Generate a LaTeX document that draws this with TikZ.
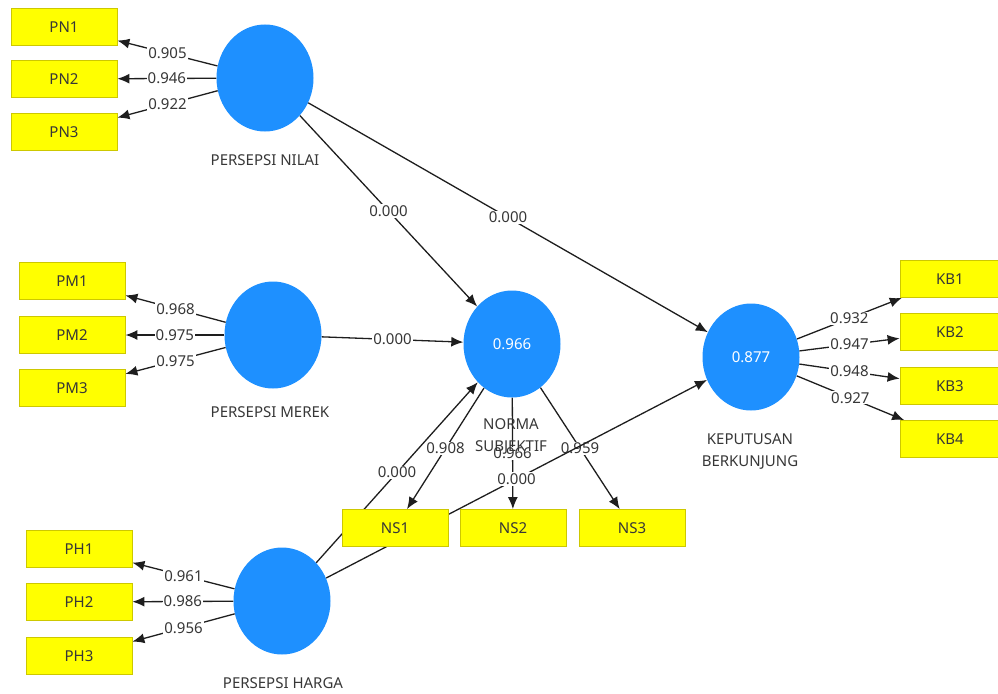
\documentclass[tikz,border=0pt]{standalone}
\usepackage{fontspec}
\setmainfont{Noto Sans}
\usetikzlibrary{shapes.geometric,arrows.meta}
\pgfdeclarelayer{background}
\pgfsetlayers{background,main}
\definecolor{lvblue}{RGB}{30,144,255}
\definecolor{boxyellow}{RGB}{255,255,0}
\definecolor{boxedge}{RGB}{205,200,0}
\definecolor{txtgray}{RGB}{55,55,55}
\definecolor{linegray}{RGB}{30,30,30}
\tikzset{
  ind/.style={rectangle,draw=boxedge,line width=0.8pt,fill=boxyellow,minimum width=106pt,minimum height=37pt,inner sep=0pt,text=txtgray,font=\fontsize{15}{17}\selectfont},
  indkb/.style={ind,minimum width=100pt},
  lv/.style={ellipse,fill=lvblue,minimum width=97pt,minimum height=107pt,inner sep=0pt,text=white,font=\fontsize{15}{17}\selectfont},
  lvname/.style={text=txtgray,align=center,font=\fontsize{15}{22}\selectfont},
  arr/.style={draw=linegray,line width=1.3pt,-{Latex[length=12pt,width=10pt]}},
  lbl/.style={fill=white,inner sep=1pt,text=txtgray,font=\fontsize{15}{17}\selectfont}
}
\begin{document}
\begin{tikzpicture}[x=1pt,y=-1pt]
\useasboundingbox (0,0) rectangle (998,693);
% indicators
\node[ind] (PN1) at (64,27) {PN1};
\node[ind] (PN2) at (64,79) {PN2};
\node[ind] (PN3) at (64,132) {PN3};
\node[ind] (PM1) at (72,281) {PM1};
\node[ind] (PM2) at (72,335) {PM2};
\node[ind] (PM3) at (72,388) {PM3};
\node[ind] (PH1) at (79,549) {PH1};
\node[ind] (PH2) at (79,602) {PH2};
\node[ind] (PH3) at (79,656) {PH3};
\node[ind] (NS1) at (395,528) {NS1};
\node[ind] (NS2) at (513,528) {NS2};
\node[ind] (NS3) at (632,528) {NS3};
\node[indkb] (KB1) at (950,279) {KB1};
\node[indkb] (KB2) at (950,332) {KB2};
\node[indkb] (KB3) at (950,386) {KB3};
\node[indkb] (KB4) at (950,439) {KB4};
% latent variables
\node[lv] (PNc) at (265,78) {};
\node[lv] (PMc) at (273,335) {};
\node[lv] (PHc) at (282,601) {};
\node[lv] (NSc) at (512,344) {0.966};
\node[lv] (KBc) at (751,357) {0.877};
% names
\node[lvname] (PNn) at (265,160) {PERSEPSI NILAI};
\node[lvname] (PMn) at (270,412) {PERSEPSI MEREK};
\node[lvname] (PHn) at (283,683) {PERSEPSI HARGA};
\node[lvname] (NSn) at (511,436) {NORMA\\SUBJEKTIF};
\node[lvname] (KBn) at (750,451) {KEPUTUSAN\\BERKUNJUNG};
\begin{pgfonlayer}{background}
% outer loadings
\draw[arr] (PNc) -- node[lbl]{0.905} (PN1);
\draw[arr] (PNc) -- node[lbl]{0.946} (PN2);
\draw[arr] (PNc) -- node[lbl]{0.922} (PN3);
\draw[arr] (PMc) -- node[lbl]{0.968} (PM1);
\draw[arr] (PMc) -- node[lbl]{0.975} (PM2);
\draw[arr] (PMc) -- node[lbl]{0.975} (PM3);
\draw[arr] (PHc) -- node[lbl]{0.961} (PH1);
\draw[arr] (PHc) -- node[lbl]{0.986} (PH2);
\draw[arr] (PHc) -- node[lbl]{0.956} (PH3);
\draw[arr] (NSc) -- node[lbl]{0.908} (NS1);
\draw[arr] (NSc) -- node[lbl]{0.966} (NS2);
\draw[arr] (NSc) -- node[lbl]{0.959} (NS3);
\draw[arr] (KBc) -- node[lbl]{0.932} (KB1);
\draw[arr] (KBc) -- node[lbl]{0.947} (KB2);
\draw[arr] (KBc) -- node[lbl]{0.948} (KB3);
\draw[arr] (KBc) -- node[lbl]{0.927} (KB4);
% structural paths
\draw[arr] (PNc) -- node[lbl]{0.000} (NSc);
\draw[arr] (PNc) -- node[lbl]{0.000} (KBc);
\draw[arr] (PMc) -- node[lbl]{0.000} (NSc);
\draw[arr] (PHc) -- node[lbl]{0.000} (NSc);
\draw[arr] (PHc) -- node[lbl]{0.000} (KBc);
\end{pgfonlayer}
\end{tikzpicture}
\end{document}
